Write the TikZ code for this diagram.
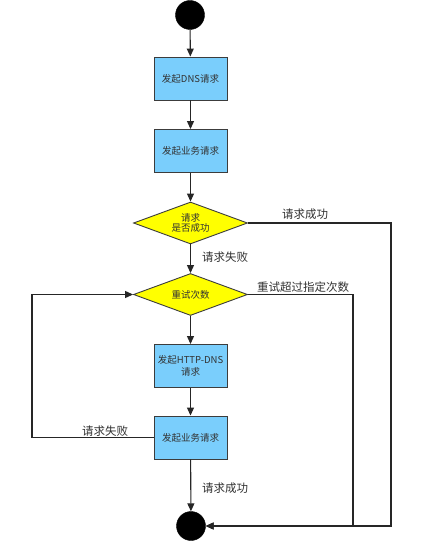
\documentclass[tikz,border=0pt]{standalone}
\usepackage{fontspec}
\newfontfamily\cjk{Noto Sans CJK SC}
\usetikzlibrary{shapes.geometric,arrows.meta}
\definecolor{boxblue}{RGB}{122,206,252}
\definecolor{diayellow}{RGB}{255,255,0}
\definecolor{edge}{RGB}{60,60,60}
\definecolor{txt}{RGB}{50,50,50}
\begin{document}
\begin{tikzpicture}[x=1pt,y=-1pt,
  every node/.style={font=\cjk, text=txt},
  terminal/.style={circle, fill=black, draw=black, minimum size=29pt, inner sep=0pt},
  procbox/.style={rectangle, draw=edge, line width=0.9pt, fill=boxblue, minimum width=73pt, minimum height=43pt, inner sep=0pt, align=center, font=\cjk\fontsize{9.5}{12}\selectfont},
  decision/.style={diamond, draw=edge, line width=0.9pt, fill=diayellow, aspect=2.7, minimum width=114pt, minimum height=42pt, inner sep=0pt, align=center, font=\cjk\fontsize{9.5}{10.5}\selectfont},
  lbl/.style={font=\cjk\fontsize{11.5}{13}\selectfont, inner sep=0pt},
  conn/.style={draw=black!85, line width=1.1pt},
  arr/.style={conn, -{Triangle[length=8pt,width=7pt]}}
]
\useasboundingbox[fill=white] (0,0) rectangle (420,553);

\node[terminal] (start) at (190,15) {};
\node[procbox] (b1) at (190.5,78.5) {发起DNS请求};
\node[procbox] (b2) at (190.5,151) {发起业务请求};
\node[decision] (d1) at (190.5,223) {请求\\是否成功};
\node[decision] (d2) at (190.5,294.5) {重试次数};
\node[procbox] (b3) at (190.5,366) {发起HTTP-DNS\\请求};
\node[procbox] (b4) at (190.5,437.5) {发起业务请求};
\node[terminal] (end) at (191,526) {};

\coordinate (r1a) at (391,223);
\coordinate (r1b) at (391,526);
\coordinate (r2a) at (353,294.5);
\coordinate (r2b) at (353,526);
\coordinate (l1) at (32,437.5);
\coordinate (l2) at (32,294.5);

\draw[arr] (start) -- (b1);
\draw[arr] (b1) -- (b2);
\draw[arr] (b2) -- (d1);
\draw[arr] (d1) -- (d2);
\draw[arr] (d2) -- (b3);
\draw[arr] (b3) -- (b4);
\draw[arr] (b4) -- (end);
\draw[arr] (b4.west) -- (l1) -- (l2) -- (d2.west);
\draw[arr] (d1.east) -- (r1a) -- (r1b) -- (end.east);
\draw[arr] (d2.east) -- (r2a) -- (r2b) -- (end.east);

\node[lbl] (t1) at (305,214) {请求成功};
\node[lbl] (t2) at (225,257) {请求失败};
\node[lbl] (t3) at (303,287) {重试超过指定次数};
\node[lbl] (t4) at (105,431) {请求失败};
\node[lbl] (t5) at (225,488) {请求成功};
\end{tikzpicture}
\end{document}
